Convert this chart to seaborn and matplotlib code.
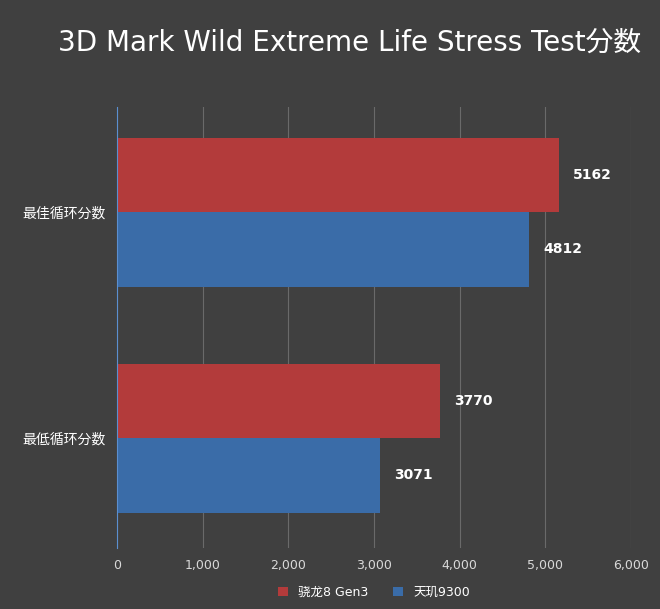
import matplotlib
matplotlib.use("Agg")
import matplotlib.pyplot as plt
from matplotlib import font_manager as fm
import seaborn as sns
import pandas as pd

categories = ["最佳循环分数", "最低循环分数"]
series = ["骁龙8 Gen3", "天玑9300"]
snapdragon = [5162, 3770]
dimensity = [4812, 3071]
xticks = [0, 1000, 2000, 3000, 4000, 5000, 6000]

cjk = [f.name for f in fm.fontManager.ttflist if "CJK" in f.name]
if not cjk:
    import glob
    for p in glob.glob("/usr/share/fonts/**/*CJK*", recursive=True):
        try:
            fm.fontManager.addfont(p)
        except Exception:
            pass
    cjk = [f.name for f in fm.fontManager.ttflist if "CJK" in f.name]
pref = [n for n in cjk if "SC" in n] or cjk
plt.rcParams["font.family"] = ["DejaVu Sans"] + pref[:1]
plt.rcParams["font.sans-serif"] = ["DejaVu Sans"] + pref[:1]
bg = "#404040"
df = pd.DataFrame({
    "cat": categories * 2,
    "series": [series[0]] * 2 + [series[1]] * 2,
    "val": snapdragon + dimensity,
})
fig = plt.figure(figsize=(6.6, 6.09), dpi=100, facecolor=bg)
ax = fig.add_axes([0.177, 0.10, 0.779, 0.724], facecolor=bg)
sns.barplot(data=df, y="cat", x="val", hue="series", orient="h",
            palette=["#B33B3B", "#3A6CA8"], width=0.66, ax=ax, saturation=1)
for c in ax.containers:
    ax.bar_label(c, labels=[f"{int(v)}" for v in c.datavalues], padding=10,
                 color="white", fontsize=10, fontweight="bold")
ax.set_xlim(0, 6000)
ax.set_ylim(1.487, -0.465)
ax.set_xticks(xticks)
ax.set_xticklabels([f"{v:,}" for v in xticks], color="#D9D9D9", fontsize=9)
ax.tick_params(axis="y", colors="white", labelsize=10, length=0, pad=8)
ax.tick_params(axis="x", length=0, pad=8)
ax.set_xlabel(""); ax.set_ylabel("")
ax.grid(axis="x", color="#6A6A6A", linewidth=0.8)
ax.set_axisbelow(True)
for s in ["top", "right", "bottom"]:
    ax.spines[s].set_visible(False)
ax.spines["left"].set_color("#5B8FD0")
ax.legend(loc="upper center", bbox_to_anchor=(0.5, -0.06), ncol=2, frameon=False,
          labelcolor="white", fontsize=9, handlelength=0.8, handleheight=0.8, columnspacing=2)
fig.text(0.53, 0.93, "3D Mark Wild Extreme Life Stress Test分数", color="white",
         fontsize=20, ha="center", va="center")
fig.savefig("out.png", dpi=100, facecolor=bg)
